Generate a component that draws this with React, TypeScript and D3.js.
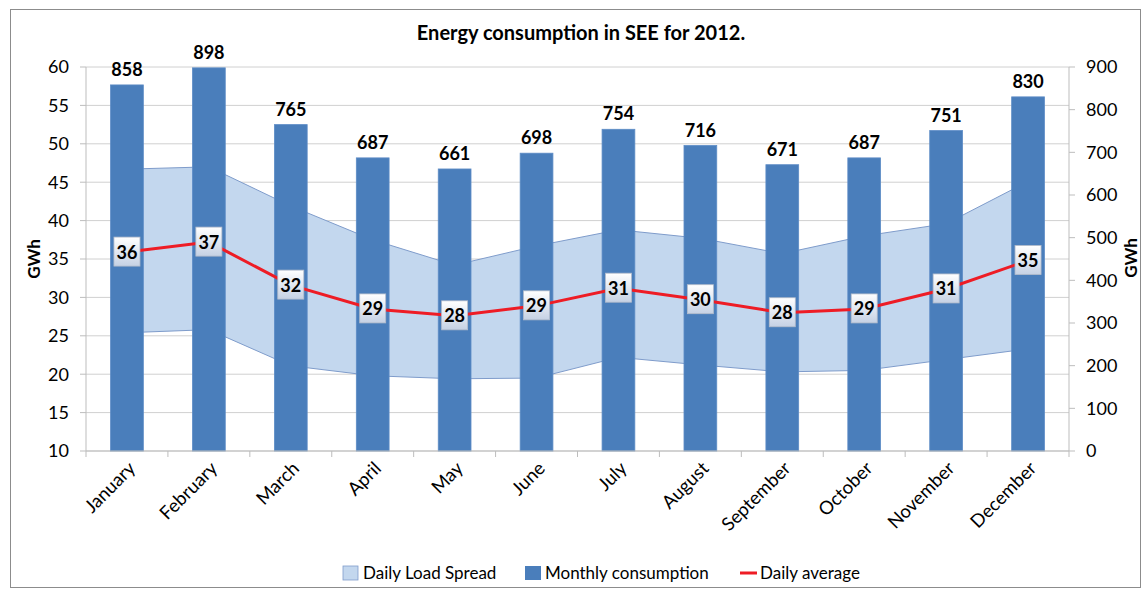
import React from "react";
import * as d3 from "d3";

const months = ["January","February","March","April","May","June","July","August","September","October","November","December"];
const monthly = [858, 898, 765, 687, 661, 698, 754, 716, 671, 687, 751, 830];
const dailyAvg = [35.9, 37.2, 31.6, 28.5, 27.6, 28.9, 31.2, 29.7, 28.0, 28.5, 31.1, 34.8];
const avgLabels = [36, 37, 32, 29, 28, 29, 31, 30, 28, 29, 31, 35];
const spreadHigh = [46.7, 47.0, 41.9, 37.5, 34.2, 36.7, 38.8, 37.7, 35.7, 38.0, 39.6, 45.1];
const spreadLow = [25.4, 25.8, 21.1, 19.8, 19.4, 19.5, 22.2, 21.2, 20.3, 20.5, 21.9, 23.3];
const leftTicks = [10, 15, 20, 25, 30, 35, 40, 45, 50, 55, 60];
const rightTicks = [0, 100, 200, 300, 400, 500, 600, 700, 800, 900];

const W = 1146, H = 589;
const L = 86, R = 1069, T = 67, B = 451;
const FONT = "Lato, 'Open Sans', sans-serif";

export default function App() {
  const x = d3.scaleBand<string>().domain(months).range([L, R]).paddingInner(0.6).paddingOuter(0.3);
  const yL = d3.scaleLinear().domain([10, 60]).range([B, T]);
  const yR = d3.scaleLinear().domain([0, 900]).range([B, T]);
  const cx = (i: number) => (x(months[i]) as number) + x.bandwidth() / 2;
  const step = x.step();
  const idx = d3.range(months.length);

  const area = d3.area<number>().x((i) => cx(i)).y0((i) => yL(spreadLow[i])).y1((i) => yL(spreadHigh[i]));
  const upper = d3.line<number>().x((i) => cx(i)).y((i) => yL(spreadHigh[i]));
  const lower = d3.line<number>().x((i) => cx(i)).y((i) => yL(spreadLow[i]));
  const avgLine = d3.line<number>().x((i) => cx(i)).y((i) => yL(dailyAvg[i]));

  return (
    <svg width={W} height={H} style={{ position: "absolute", left: 0, top: 0, fontFamily: FONT }}>
      <defs>
        <linearGradient id="lblg" x1="0" y1="0" x2="0" y2="1">
          <stop offset="0" stopColor="#ffffff" />
          <stop offset="1" stopColor="#c5d1e4" />
        </linearGradient>
      </defs>
      <rect x={0} y={0} width={W} height={H} fill="#fff" />
      <rect x={10.5} y={9.5} width={1130} height={578} fill="#fff" stroke="#8c8c8c" strokeWidth={1} />
      <text x={581} y={40} textAnchor="middle" fontSize={20} fontWeight="bold" fill="#000">Energy consumption in SEE for 2012.</text>

      {leftTicks.map((t) => (
        <line key={"g" + t} x1={L} x2={R} y1={yL(t)} y2={yL(t)} stroke="#d0d0d0" strokeWidth={1} />
      ))}
      <line x1={L} x2={L} y1={T} y2={B} stroke="#bdbdbd" />
      {leftTicks.map((t) => (
        <g key={"l" + t}>
          <line x1={L - 6} x2={L} y1={yL(t)} y2={yL(t)} stroke="#bdbdbd" />
          <text x={69} y={yL(t)} dy="0.35em" textAnchor="end" fontSize={18} fill="#000">{t}</text>
        </g>
      ))}
      <line x1={R} x2={R} y1={T} y2={B} stroke="#bdbdbd" />
      {rightTicks.map((t) => (
        <g key={"r" + t}>
          <line x1={R} x2={R + 6} y1={yR(t)} y2={yR(t)} stroke="#bdbdbd" />
          <text x={1086} y={yR(t)} dy="0.35em" textAnchor="start" fontSize={18} fill="#000">{t}</text>
        </g>
      ))}
      <text transform={`translate(40,259) rotate(-90)`} textAnchor="middle" fontSize={17} fontWeight="bold">GWh</text>
      <text transform={`translate(1137,258) rotate(-90)`} textAnchor="middle" fontSize={17} fontWeight="bold">GWh</text>

      <path d={area(idx) as string} fill="#c3d7ee" />
      <path d={upper(idx) as string} fill="none" stroke="#7f9ccb" strokeWidth={1} />
      <path d={lower(idx) as string} fill="none" stroke="#7f9ccb" strokeWidth={1} />

      {idx.map((i) => (
        <rect key={"b" + i} x={x(months[i])} y={yR(monthly[i])} width={x.bandwidth()} height={B - yR(monthly[i])}
          fill="#4a7ebb" stroke="#5d8cc6" strokeWidth={0.8} />
      ))}
      {idx.map((i) => (
        <text key={"bl" + i} x={cx(i)} y={yR(monthly[i]) - 9} textAnchor="middle" fontSize={18} fontWeight="bold">{monthly[i]}</text>
      ))}

      <line x1={L} x2={R} y1={B} y2={B} stroke="#bdbdbd" />
      {d3.range(months.length + 1).map((k) => (
        <line key={"xt" + k} x1={L + k * step} x2={L + k * step} y1={B} y2={B + 6} stroke="#bdbdbd" />
      ))}
      {idx.map((i) => (
        <text key={"xl" + i} transform={`translate(${cx(i) + 5},${B + 14}) rotate(-45)`} textAnchor="end" dy="0.35em" fontSize={18.5}>{months[i]}</text>
      ))}

      <path d={avgLine(idx) as string} fill="none" stroke="#ee1c25" strokeWidth={3} />
      {idx.map((i) => (
        <g key={"al" + i}>
          <rect x={cx(i) - 13} y={yL(dailyAvg[i]) - 15} width={26} height={29} fill="url(#lblg)" stroke="#b4bccb" strokeWidth={0.8} />
          <text x={cx(i)} y={yL(dailyAvg[i])} dy="0.36em" textAnchor="middle" fontSize={18} fontWeight="bold">{avgLabels[i]}</text>
        </g>
      ))}

      <rect x={343} y={566} width={15} height={14} fill="#c3d7ee" stroke="#7f9ccb" strokeWidth={0.8} />
      <text x={363} y={573} dy="0.35em" fontSize={17}>Daily Load Spread</text>
      <rect x={525} y={566} width={16} height={14} fill="#4a7ebb" />
      <text x={545} y={573} dy="0.35em" fontSize={17}>Monthly consumption</text>
      <line x1={740} x2={757} y1={573} y2={573} stroke="#ee1c25" strokeWidth={3} />
      <text x={760} y={573} dy="0.35em" fontSize={17}>Daily average</text>
    </svg>
  );
}
